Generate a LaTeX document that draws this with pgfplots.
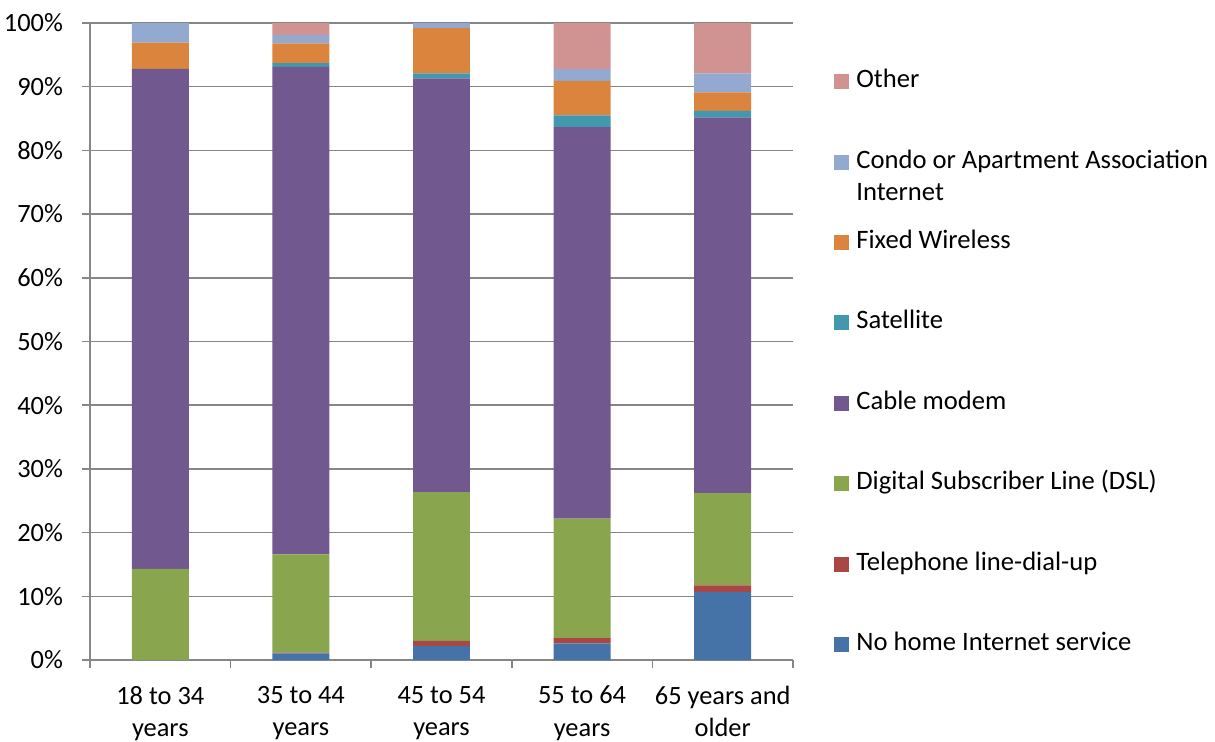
\documentclass[border=0pt]{standalone}
\usepackage{pgfplots}
\pgfplotsset{compat=1.18}
\usepackage{fontspec}
\setmainfont{Carlito}
\definecolor{cNo}{HTML}{4572A7}
\definecolor{cTel}{HTML}{AA4643}
\definecolor{cDSL}{HTML}{89A54E}
\definecolor{cCab}{HTML}{71588F}
\definecolor{cSat}{HTML}{4198AF}
\definecolor{cFW}{HTML}{DB843D}
\definecolor{cCon}{HTML}{93A9CF}
\definecolor{cOth}{HTML}{D19392}
\definecolor{gridgray}{RGB}{134,134,134}
\begin{document}
\fontsize{13pt}{16.2pt}\selectfont
\begin{tikzpicture}[font=\fontsize{13pt}{16.2pt}\selectfont]
\useasboundingbox (-45pt,-40.5pt) rectangle (562.5pt,330pt);
\begin{axis}[
  scale only axis, width=351.5pt, height=318.5pt,
  ybar stacked, bar width=0.405,
  xmin=-0.5, xmax=4.5, ymin=0, ymax=100,
  xtick={0,1,2,3,4},
  xticklabels={{18 to 34\\years},{35 to 44\\years},{45 to 54\\years},{55 to 64\\years},{65 years and\\older}},
  xticklabel style={align=center, yshift=-4.5pt, font=\fontsize{13.2pt}{16.2pt}\selectfont},
  yticklabel style={xshift=-5pt, font=\fontsize{13.2pt}{16.2pt}\selectfont},
  major x tick style={draw=none},
  minor xtick={-0.5,0.5,1.5,2.5,3.5,4.5},
  ytick={0,10,...,100},
  yticklabel={\pgfmathprintnumber{\tick}\%},
  /pgf/number format/assume math mode=true,
  axis x line=bottom, axis y line=left,
  axis line style={draw=gridgray, line width=0.75pt, -},
  tick style={draw=gridgray, line width=0.75pt},
  tick align=outside,
  major tick length=4pt, minor tick length=4pt,
  ymajorgrids, grid style={draw=gridgray, line width=0.75pt},
  reverse legend,
  legend cell align=left,
  legend image code/.code={\fill[#1] (0pt,-3.75pt) rectangle (7.5pt,3.75pt);},
  legend style={at={(axis description cs:1.0583,0.9273)}, anchor=north west, draw=none, fill=none,
    inner sep=0pt, row sep=28.2pt,
    nodes={inner sep=0pt, text height=9pt, text depth=3pt},
    /tikz/every odd column/.style={column sep=3.5pt},
    font=\fontsize{13.3pt}{16.2pt}\selectfont},
]
\addplot[fill=cNo, draw=none] coordinates {(0,0) (1,1.05) (2,2.2) (3,2.6) (4,10.7)};
\addplot[fill=cTel, draw=none] coordinates {(0,0) (1,0.1) (2,0.8) (3,0.85) (4,1.0)};
\addplot[fill=cDSL, draw=none] coordinates {(0,14.3) (1,15.45) (2,23.35) (3,18.75) (4,14.5)};
\addplot[fill=cCab, draw=none] coordinates {(0,78.5) (1,76.5) (2,64.95) (3,61.45) (4,59.0)};
\addplot[fill=cSat, draw=none] coordinates {(0,0) (1,0.6) (2,0.8) (3,1.85) (4,1.0)};
\addplot[fill=cFW, draw=none] coordinates {(0,4.1) (1,3.1) (2,7.1) (3,5.4) (4,2.9)};
\addplot[fill=cCon, draw=none] coordinates {(0,3.1) (1,1.3) (2,0.8) (3,1.85) (4,3.0)};
\addplot[fill=cOth, draw=none] coordinates {(0,0) (1,1.9) (2,0) (3,7.25) (4,7.9)};
\legend{No home Internet service, Telephone line-dial-up, Digital Subscriber Line (DSL), Cable modem, Satellite, Fixed Wireless, {\raisebox{0pt}[\height][0pt]{\begin{tabular}[t]{@{}l@{}}Condo or Apartment Association\\Internet\end{tabular}}}, Other}
\end{axis}
\end{tikzpicture}
\end{document}
